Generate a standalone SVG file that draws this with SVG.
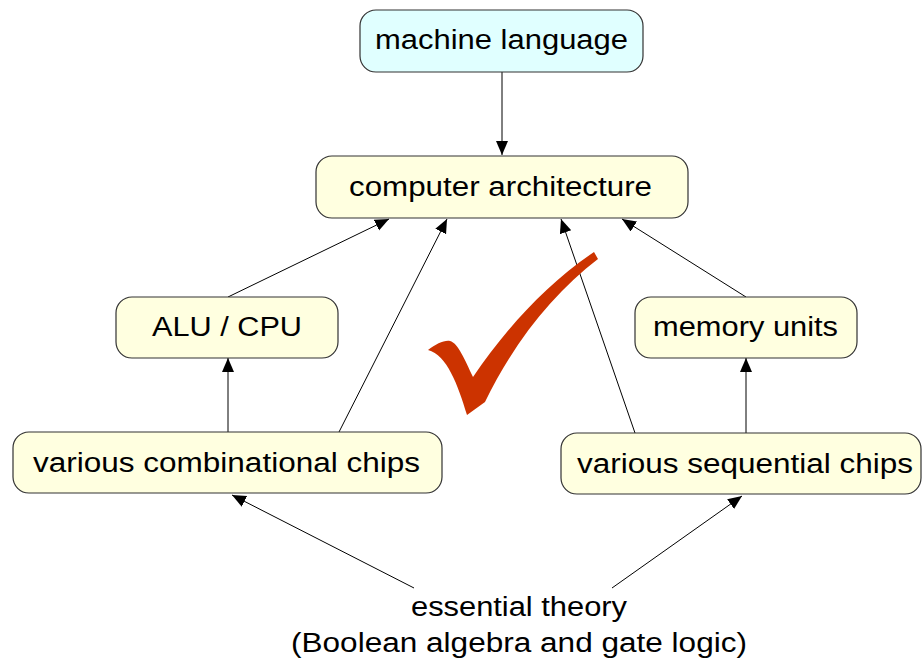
<svg xmlns="http://www.w3.org/2000/svg" width="923" height="664" viewBox="0 0 923 664">
<style>
.node{fill:#ffffe0;stroke:#333;stroke-width:1.2}
.top{fill:#e0ffff}
.lbl{font-family:"Liberation Sans",Arial,sans-serif;font-size:27px;fill:#000;text-anchor:middle}
.edge{stroke:#000;stroke-width:1;fill:none;marker-end:url(#arr)}
</style>
<defs>
<marker id="arr" markerUnits="userSpaceOnUse" markerWidth="16" markerHeight="14" refX="14" refY="6" orient="auto">
<path d="M0,0 L14,6 L0,12 Z" fill="#000"/>
</marker>
</defs>
<rect width="923" height="664" fill="#fff"/>
<g id="connectors">
<line class="edge" x1="502" y1="72" x2="502" y2="155"/>
<line class="edge" x1="228" y1="297" x2="389" y2="219"/>
<line class="edge" x1="339" y1="432" x2="447" y2="219"/>
<line class="edge" x1="635" y1="433" x2="561" y2="219"/>
<line class="edge" x1="746" y1="297" x2="622" y2="219"/>
<line class="edge" x1="228" y1="432" x2="228" y2="358"/>
<line class="edge" x1="746" y1="433" x2="746" y2="358"/>
<line class="edge" x1="414" y1="588" x2="232" y2="495"/>
<line class="edge" x1="612" y1="588" x2="742" y2="496"/>
</g>
<g id="check">
<path fill="#cc3300" d="M428,350 C436,344 444,340 450,341 C458,343 465,360 473,377 C505,330 545,285 594,252 L598,259 C555,292 515,340 485,402 L467,415 C458,385 447,355 428,350 Z"/>
</g>
<g id="n-machine">
<rect class="node top" x="360" y="10" width="283" height="62" rx="16"/>
<text class="lbl" x="501.5" y="49" textLength="253" lengthAdjust="spacingAndGlyphs">machine language</text>
</g>
<g id="n-arch">
<rect class="node" x="316" y="156" width="372" height="62" rx="16"/>
<text class="lbl" x="500.5" y="196" textLength="303" lengthAdjust="spacingAndGlyphs">computer architecture</text>
</g>
<g id="n-alu">
<rect class="node" x="116" y="297" width="222" height="61" rx="16"/>
<text class="lbl" x="227" y="336" textLength="150" lengthAdjust="spacingAndGlyphs">ALU / CPU</text>
</g>
<g id="n-mem">
<rect class="node" x="635" y="297" width="222" height="61" rx="16"/>
<text class="lbl" x="745.5" y="336" textLength="185" lengthAdjust="spacingAndGlyphs">memory units</text>
</g>
<g id="n-comb">
<rect class="node" x="13" y="432" width="429" height="61" rx="16"/>
<text class="lbl" x="226.5" y="472" textLength="387" lengthAdjust="spacingAndGlyphs">various combinational chips</text>
</g>
<g id="n-seq">
<rect class="node" x="561" y="433" width="360" height="61" rx="16"/>
<text class="lbl" x="745" y="473" textLength="336" lengthAdjust="spacingAndGlyphs">various sequential chips</text>
</g>
<g id="n-theory">
<text class="lbl" x="519" y="616" textLength="216" lengthAdjust="spacingAndGlyphs">essential theory</text>
<text class="lbl" x="519" y="652" textLength="456" lengthAdjust="spacingAndGlyphs">(Boolean algebra and gate logic)</text>
</g>
</svg>
